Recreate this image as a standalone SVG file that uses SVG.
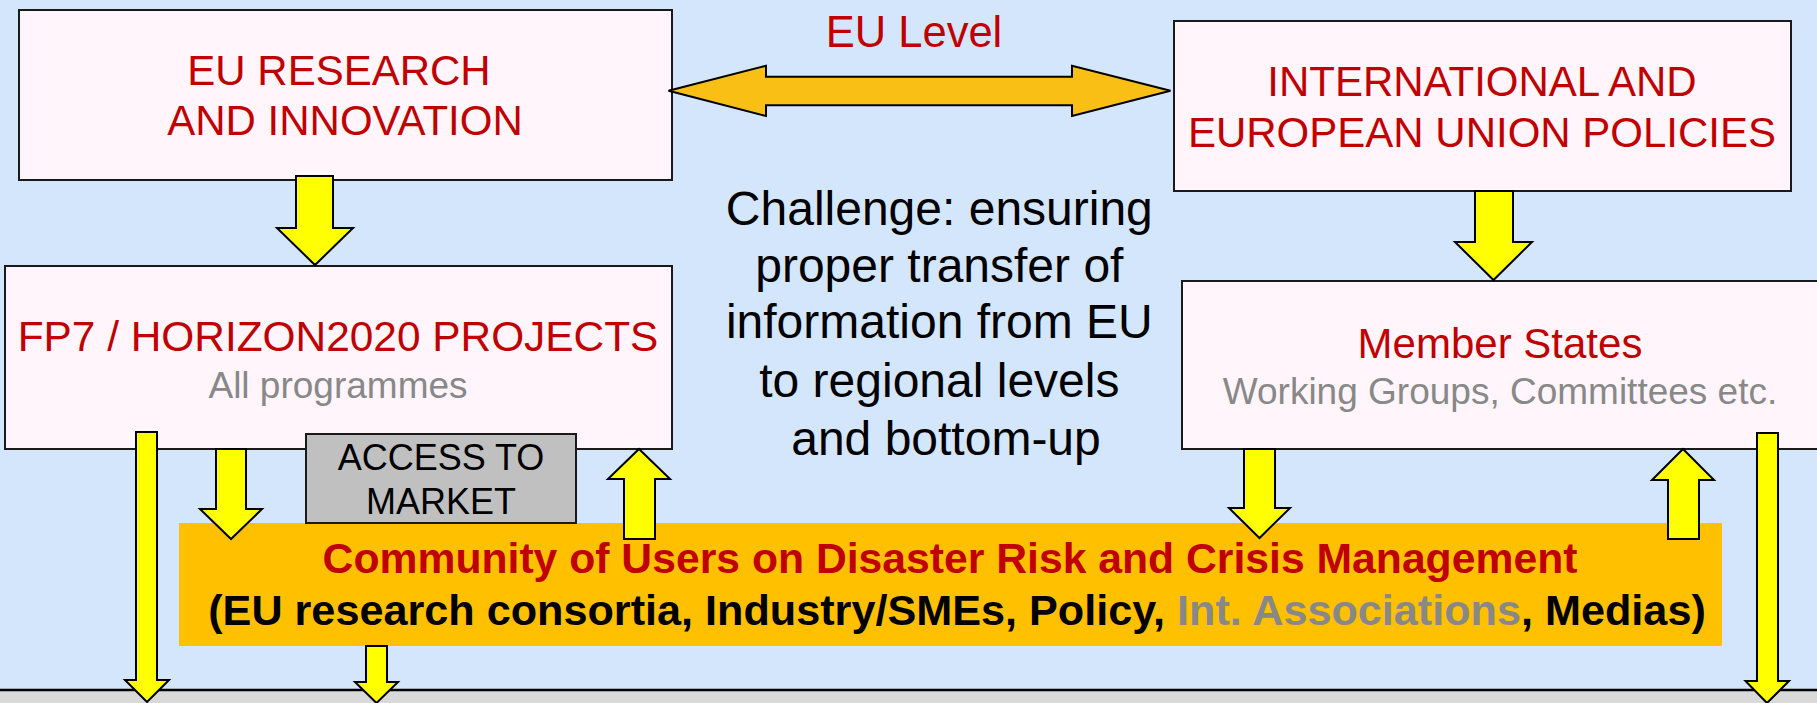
<svg xmlns="http://www.w3.org/2000/svg" width="1817" height="703" viewBox="0 0 1817 703">
<style>
.box{fill:#fff5fb;stroke:#1a1a1a;stroke-width:2}
.arr{fill:#ffff00;stroke:#000;stroke-width:2;stroke-linejoin:miter}
.t{font-family:"Liberation Sans",Arial,sans-serif;text-anchor:middle}
.red{fill:#c00000}
.gray{fill:#888888}
.blk{fill:#000}
.b{font-weight:bold}
</style>
<rect x="0" y="0" width="1817" height="703" fill="#d4e6fc"/>
<g id="bottom-band">
<rect x="-2" y="690" width="1821" height="20" fill="#d9d9d9" stroke="#000" stroke-width="2.5"/>
</g>
<g id="eu-level-label">
<text class="t red" x="914" y="47" font-size="43.5">EU Level</text>
</g>
<g id="eu-research">
<rect class="box" x="19" y="10" width="653" height="170"/>
<text class="t red" x="339" y="85" font-size="42">EU RESEARCH</text>
<text class="t red" x="345" y="135" font-size="42">AND INNOVATION</text>
</g>
<g id="international">
<rect class="box" x="1174" y="21" width="617" height="170"/>
<text class="t red" x="1482" y="96" font-size="42">INTERNATIONAL AND</text>
<text class="t red" x="1482" y="147" font-size="42">EUROPEAN UNION POLICIES</text>
</g>
<g id="fp7">
<rect class="box" x="5" y="266" width="667" height="183"/>
<text class="t red" x="338" y="351" font-size="42.4">FP7 / HORIZON2020 PROJECTS</text>
<text class="t gray" x="338" y="398" font-size="37">All programmes</text>
</g>
<g id="member-states">
<rect class="box" x="1182" y="281" width="650" height="168"/>
<text class="t red" x="1500" y="358" font-size="42">Member States</text>
<text class="t gray" x="1500" y="404" font-size="37">Working Groups, Committees etc.</text>
</g>
<g id="challenge">
<text class="t blk" font-size="48">
<tspan x="946" y="225">Challenge: ensuring</tspan>
<tspan x="946" y="282">proper transfer of</tspan>
<tspan x="946" y="338">information from EU</tspan>
<tspan x="946" y="397">to regional levels</tspan>
<tspan x="946" y="455">and bottom-up</tspan>
</text>
</g>
<g id="community">
<rect x="179" y="523" width="1543" height="123" fill="#ffc000"/>
<text class="t red b" x="950" y="573" font-size="42.7">Community of Users on Disaster Risk and Crisis Management</text>
<text class="t blk b" x="957" y="625" font-size="43.2">(EU research consortia, Industry/SMEs, Policy, <tspan class="gray">Int. Associations</tspan>, Medias)</text>
</g>
<g id="access-to-market">
<rect x="306" y="434" width="270" height="89" fill="#c0c0c0" stroke="#1a1a1a" stroke-width="2"/>
<text class="t blk" x="441" y="470" font-size="36">ACCESS TO</text>
<text class="t blk" x="441" y="514" font-size="36">MARKET</text>
</g>
<g id="connectors">
<polygon points="668.5,90.7 766,65.7 766,76.7 1072,76.7 1072,65.7 1170.5,90.7 1072,116 1072,105.3 766,105.3 766,116" fill="#f9bf14" stroke="#000" stroke-width="2"/>
<polygon class="arr" points="296,176 333,176 333,228 353,228 315,265 277,228 296,228"/>
<polygon class="arr" points="1475,191 1513,191 1513,242 1532,242 1493.5,280 1455,242 1475,242"/>
<polygon class="arr" points="136,432 157,432 157,680 169,680 147,702 125,680 136,680"/>
<polygon class="arr" points="216,449 246,449 246,509 262,509 231,539 200,509 216,509"/>
<polygon class="arr" points="639,449 670,479 655,479 655,539 624,539 624,479 608,479"/>
<polygon class="arr" points="366,646 387,646 387,682 398,682 376.5,703 355,682 366,682"/>
<polygon class="arr" points="1244,449 1275,449 1275,508 1290,508 1259.5,538 1229,508 1244,508"/>
<polygon class="arr" points="1683,449 1714,480 1699,480 1699,539 1668,539 1668,480 1652,480"/>
<polygon class="arr" points="1757,433 1778,433 1778,681 1789,681 1767,703 1745.5,681 1757,681"/>
</g>
</svg>
